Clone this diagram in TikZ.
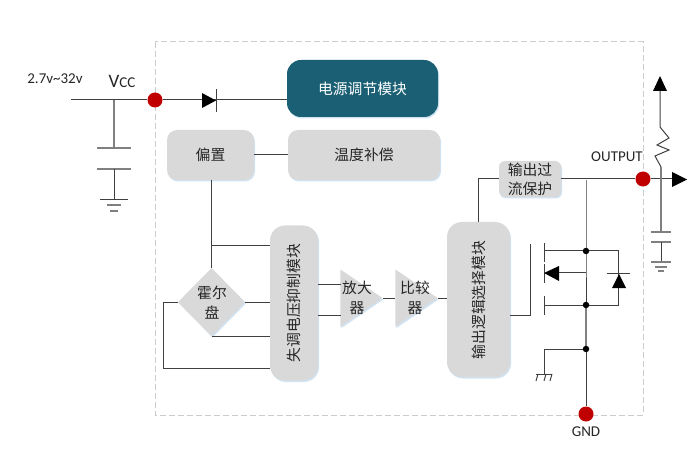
\documentclass[tikz,border=0pt]{standalone}
\usepackage{fontspec}
\setmainfont{Carlito}
\newfontfamily\cjk{Noto Sans CJK SC}
\usetikzlibrary{positioning, arrows.meta, shapes.geometric, calc, shadows}
\definecolor{boxgray}{HTML}{D9D9D9}
\definecolor{boxteal}{HTML}{1A5F73}
\definecolor{pinred}{HTML}{C00000}
\definecolor{wiredark}{HTML}{404040}
\definecolor{wiregray}{HTML}{808080}
\definecolor{borderdash}{HTML}{CCCCCC}
\definecolor{glow}{HTML}{BDD7EE}

\begin{document}
\begin{tikzpicture}[
            x=1pt, y=-1pt,
            softshadow/.style={general shadow={shadow xshift=1pt, shadow yshift=-1.5pt, fill=glow, opacity=0.7}},
            block/.style={rectangle, rounded corners=10pt, fill=boxgray, softshadow, inner sep=0pt,
                        font=\cjk\fontsize{14.8}{19}\selectfont, align=center, text=black!85},
            tallblock/.style={block, rounded corners=15pt},
            label/.style={font=\fontsize{15}{17}\selectfont, text=black!85, inner sep=0pt},
            cjklabel/.style={font=\cjk\fontsize{14.8}{20}\selectfont, text=black!85, inner sep=0pt, align=center},
            amp/.style={isosceles triangle, isosceles triangle stretches, fill=boxgray, softshadow,
                        minimum width=57pt, minimum height=42pt, inner sep=0pt, anchor=apex},
            hall/.style={diamond, fill=boxgray, softshadow, minimum width=67pt, minimum height=68pt, inner sep=0pt},
            pin/.style={circle, fill=pinred, minimum size=15pt, inner sep=0pt},
            junction/.style={circle, fill=black, minimum size=6.5pt, inner sep=0pt},
            wire/.style={draw=wiredark, line width=1pt},
            palewire/.style={draw=wiregray, line width=1.1pt},
            tip/.style={fill=black, draw=none},
        ]
            % Package outline
            \draw[borderdash, line width=1pt, dash pattern=on 6pt off 3pt] (155,42) rectangle (643,415);

            % Function blocks
            \node[block, fill=boxteal, text=white, rounded corners=14pt, minimum width=151pt, minimum height=57pt] (regulator) at (362.5,88.5) {电源调节模块};
            \node[block, minimum width=87pt, minimum height=50pt] (bias) at (210.5,155) {偏置};
            \node[block, minimum width=152pt, minimum height=50pt] (tempcomp) at (364,155) {温度补偿};
            \node[hall] (hallplate) at (211.5,302) {};
            \node[cjklabel] (halltext) at (212,303) {霍尔\\盘};
            \node[tallblock, minimum width=48pt, minimum height=155pt] (offset) at (294,303) {};
            \node[cjklabel, rotate=90] (offsettext) at (294,303) {失调电压抑制模块};
            \node[amp] (amplifier) at (383,298) {};
            \node[cjklabel] (amplifiertext) at (357,298) {放大\\器};
            \node[amp] (comparator) at (438,298) {};
            \node[cjklabel] (comparatortext) at (415,298) {比较\\器};
            \node[tallblock, minimum width=63pt, minimum height=155pt] (logic) at (478.5,299.5) {};
            \node[cjklabel, rotate=90] (logictext) at (478.5,300) {输出逻辑选择模块};
            \node[block, rounded corners=6pt, minimum width=62pt, minimum height=36pt] (ocp) at (530,179) {输出过\\流保护};

            % Pins
            \node[pin] (vccpin) at (155,100) {};
            \node[pin] (outpin) at (643,179) {};
            \node[pin] (gndpin) at (586,414) {};
            \node[label] (range) at (55,79) {2.7v\textasciitilde32v};
            \node[label] (vcc) at (122,81) {\fontsize{19}{19}\selectfont V\fontsize{15}{15}\selectfont CC};
            \node[label] (output) at (617,157) {OUTPUT};
            \node[label] (gnd) at (586,432) {GND};

            % Supply side
            \coordinate (vccin) at (71,100);
            \coordinate (capnode) at (114,100);
            \coordinate (capA) at (114,148);
            \coordinate (capB) at (114,169);
            \coordinate (capgnd) at (114,200);
            \draw[wire] (vccin) -- (vccpin);
            \draw[wire] (vccpin) -- (regulator.west |- vccpin);
            \draw[tip] (202,93) -- (216,100.5) -- (202,108) -- cycle;
            \draw[wire] (216,89) -- (216,112);
            \draw[palewire] (capnode) -- (capA);
            \draw[palewire] ($(capA)+(-17,0)$) -- ($(capA)+(17,0)$);
            \draw[palewire] ($(capB)+(-17,0)$) -- ($(capB)+(17,0)$);
            \draw[wire] (capB) -- (capgnd);
            \draw[wire] ($(capgnd)+(-14,0)$) -- ($(capgnd)+(14,0)$);
            \draw[palewire] ($(capgnd)+(-7,5)$) -- ($(capgnd)+(7,5)$);
            \draw[palewire] ($(capgnd)+(-4,11)$) -- ($(capgnd)+(4,11)$);

            % Signal path
            \coordinate (biasdrop) at (211,246);
            \coordinate (hallloop) at (163,368);
            \draw[wire] (bias) -- (tempcomp);
            \draw[wire] (bias.south -| hallplate.north) -- (hallplate.north);
            \draw[wire] (biasdrop) -- (biasdrop -| offset.west);
            \draw[wire] (hallplate.east) -- (hallplate.east -| offset.west);
            \draw[wire] (hallplate.south) -- (offset.west |- hallplate.south);
            \draw[wire] (hallplate.west) -- (hallloop |- hallplate.west) -- (hallloop) -- (hallloop -| offset.west);
            \draw[wire] ($(offset.east)+(0,-19)$) -- ++(23,0);
            \draw[wire] ($(offset.east)+(0,12)$) -- ++(23,0);
            \draw[wire] (amplifier.apex) -- (comparator.lower side);
            \draw[wire] (comparator.apex) -- (logic.west |- comparator.apex);
            \draw[wire] (logic.north) |- (ocp.west);
            \draw[wire] (ocp.east) -- (outpin);

            % Output stage
            \coordinate (gate) at (530,315);
            \coordinate (drain) at (586,251);
            \coordinate (source) at (586,305);
            \coordinate (gndtap) at (586,349);
            \coordinate (earth) at (544,374);
            \draw[wire] (logic.east |- gate) -- (gate) -- (530,244);
            \draw[wire] (544,243) -- (544,262);
            \draw[wire] (544,264) -- (544,283);
            \draw[wire] (544,296) -- (544,315);
            \draw[wire] (544,251) -- (618.5,251) -- (618.5,305) -- (544,305);
            \draw[tip] (544,273) -- (559,266) -- (559,281) -- cycle;
            \draw[wire] (559,273) -- (586,273);
            \draw[tip] (619,274) -- (626,288) -- (612,288) -- cycle;
            \draw[wire] (607,274) -- (630,274);
            \draw[wire] (586,180) -- (drain) -- (source);
            \draw[palewire] (source) -- (gndtap);
            \draw[wire] (gndtap) -- (gndpin);
            \draw[wire] (gndtap) -| (earth);
            \draw[wire] (536,374) -- (552,374);
            \draw[wire] (538,374) -- (536,381);
            \draw[wire] (546,374) -- (544,381);
            \draw[wire] (552,374) -- (550,381);
            \node[junction] (drainjoint) at (drain) {};
            \node[junction] (sourcejoint) at (source) {};
            \node[junction] (gndjoint) at (gndtap) {};

            % Load side
            \coordinate (pullup) at (660,91);
            \coordinate (loadA) at (661,232);
            \coordinate (loadB) at (661,242);
            \coordinate (loadgnd) at (661,262);
            \draw[wire] (outpin) -- (672,179);
            \draw[tip] (672,172) -- (687,179.5) -- (672,187) -- cycle;
            \draw[tip] (660,76) -- (667,91) -- (653,91) -- cycle;
            \draw[wire] (pullup) -- (660,127) -- (669,138) -- (657,145) -- (669,150) -- (655,156) -- (661,167);
            \draw[palewire] (661,167) -- (loadA);
            \draw[palewire] ($(loadA)+(-10,0)$) -- ($(loadA)+(10,0)$);
            \draw[palewire] ($(loadB)+(-10,0)$) -- ($(loadB)+(10,0)$);
            \draw[wire] (loadB) -- (loadgnd);
            \draw[palewire] ($(loadgnd)+(-10,0)$) -- ($(loadgnd)+(10,0)$);
            \draw[palewire] ($(loadgnd)+(-6,5)$) -- ($(loadgnd)+(6,5)$);
            \draw[palewire] ($(loadgnd)+(-3,9)$) -- ($(loadgnd)+(3,9)$);

            % Phantom to fix the page
            \useasboundingbox (0,0) rectangle (699,465);
        \end{tikzpicture}
\end{document}
